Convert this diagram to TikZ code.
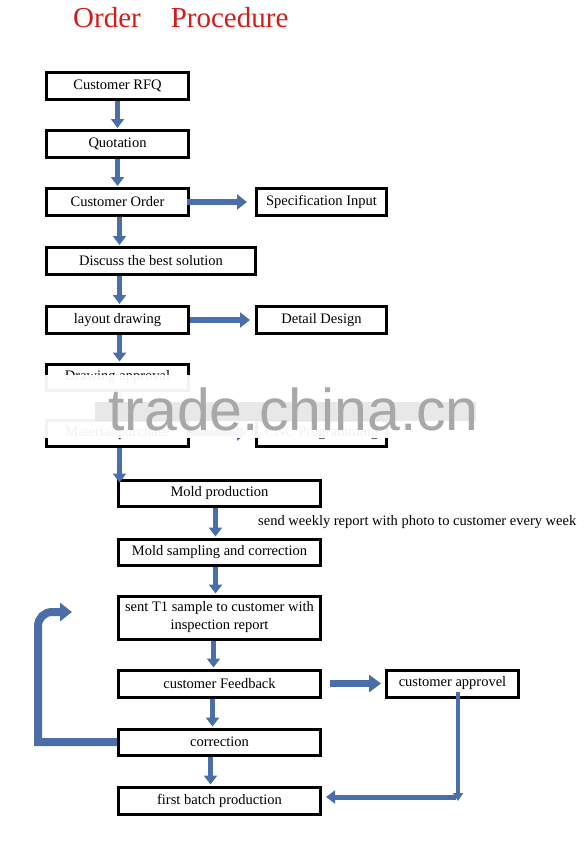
\documentclass[tikz,border=0pt]{standalone}
\usepackage{fontspec}
\setmainfont{Liberation Serif}
\newfontfamily\marksans{Liberation Sans}
\usetikzlibrary{arrows.meta}
\definecolor{flowblue}{RGB}{74,111,168}
\definecolor{titlered}{RGB}{210,28,28}

\begin{document}
\begin{tikzpicture}[x=1pt,y=-1pt,font=\fontsize{14.5}{18}\selectfont]
	\tikzstyle{stage}=[draw=black,line width=3pt,minimum width=142pt,minimum height=27pt,inner sep=0pt,align=center]
	\tikzstyle{side stage}=[stage,minimum width=130pt]
	\tikzstyle{low stage}=[stage,minimum width=202pt]
	\tikzstyle{flow}=[draw=flowblue,line width=5pt,-{Triangle[width=13pt,length=9pt]},shorten >=1pt]
	\tikzstyle{side flow}=[flow,line width=6pt,-{Triangle[width=15pt,length=10pt]}]

	\useasboundingbox (0,0) rectangle (588,852);

	\node[text=titlered,font=\fontsize{29}{32}\selectfont,anchor=base west,inner sep=0pt] (title) at (73,27) {Order\hspace{30pt}Procedure};

	\node[stage] (rfq) at (117.5,86) {Customer RFQ};
	\node[stage] (quote) at (117.5,144) {Quotation};
	\node[stage] (order) at (117.5,202) {Customer Order};
	\node[side stage] (spec) at (321.5,202) {Specification Input};
	\node[stage,minimum width=209pt] (discuss) at (151,261) {Discuss the best solution};
	\node[stage] (layout) at (117.5,320) {layout drawing};
	\node[side stage] (detail) at (321.5,320) {Detail Design};
	\node[stage,minimum height=26pt] (approval) at (117.5,377) {Drawing approval};
	\node[stage,minimum height=26pt] (material) at (117.5,433) {Material purchase};
	\node[side stage,minimum height=26pt] (cnc) at (321.5,433) {CNC Programming};
	\node[low stage,minimum height=26pt] (mold) at (219.5,493) {Mold production};
	\node[low stage,minimum height=26pt] (sampling) at (219.5,552) {Mold sampling and correction};
	\node[low stage,minimum height=43pt] (tone) at (219.5,617.5) {sent T1 sample to customer with\\inspection report};
	\node[low stage] (feedback) at (219.5,683.5) {customer Feedback};
	\node[stage,minimum width=132pt] (approvel) at (452.5,683.5) {customer approvel};
	\node[low stage,minimum height=26pt] (correction) at (219.5,742) {correction};
	\node[low stage] (batch) at (219.5,800.5) {first batch production};

	\node[anchor=west,inner sep=0pt] (note) at (258,522) {send weekly report with photo to customer every week};

	\draw[flow] (rfq) -- (quote);
	\draw[flow] (quote) -- (order);
	\draw[flow] ([xshift=2pt]order.south) -- ([xshift=2pt]order.south |- discuss.north);
	\draw[flow] ([xshift=2pt]discuss.south -| order.south) -- ([xshift=2pt]layout.north);
	\draw[flow] ([xshift=2pt]layout.south) -- ([xshift=2pt]approval.north);
	\draw[flow] ([xshift=2pt]approval.south) -- ([xshift=2pt]material.north);
	\draw[flow] ([xshift=2pt]material.south) -- ([xshift=2pt,yshift=-5pt]material.south |- mold.north);
	\draw[flow] ([xshift=-4pt]mold.south) -- ([xshift=-4pt]sampling.north);
	\draw[flow] ([xshift=-4pt]sampling.south) -- ([xshift=-4pt]tone.north);
	\draw[flow] ([xshift=-6pt]tone.south) -- ([xshift=-6pt]feedback.north);
	\draw[flow] ([xshift=-7pt]feedback.south) -- ([xshift=-7pt]correction.north);
	\draw[flow] ([xshift=-9pt]correction.south) -- ([xshift=-9pt]batch.north);

	\draw[side flow,shorten <=-3pt,shorten >=8pt] (order) -- (spec);
	\draw[side flow,shorten >=5pt] (layout) -- (detail);
	\draw[side flow,shorten >=8pt] (material) -- (cnc);
	\draw[side flow,line width=7pt,-{Triangle[width=17pt,length=12pt]},shorten <=8pt,shorten >=4pt] (feedback) -- (approvel);

	\coordinate (turn) at (458,797);
	\draw[flow,line width=4pt,-{Triangle[width=10pt,length=8pt]},shorten >=-4pt] ([xshift=5.5pt,yshift=7pt]approvel.south) -- (turn);
	\draw[flow,shorten >=4pt] ([xshift=-2pt]turn) -- (turn -| batch.east);

	\coordinate (loopend) at (72,612);
	\draw[draw=flowblue,line width=8pt,line join=miter,-{Triangle[width=18pt,length=12pt]}] (correction.west) -- (38,742) -- (38,626) arc[start angle=180,end angle=270,radius=14] -- (loopend);

	\fill[white,opacity=.95] (30,375) rectangle (486,438);
	\fill[gray!22,opacity=.8] (95,402) rectangle (476,421);
	\node[anchor=base west,inner sep=0pt,text=gray!68,font=\marksans\fontsize{59}{60}\selectfont] (mark) at (108,430) {trade.china.cn};
\end{tikzpicture}
\end{document}
